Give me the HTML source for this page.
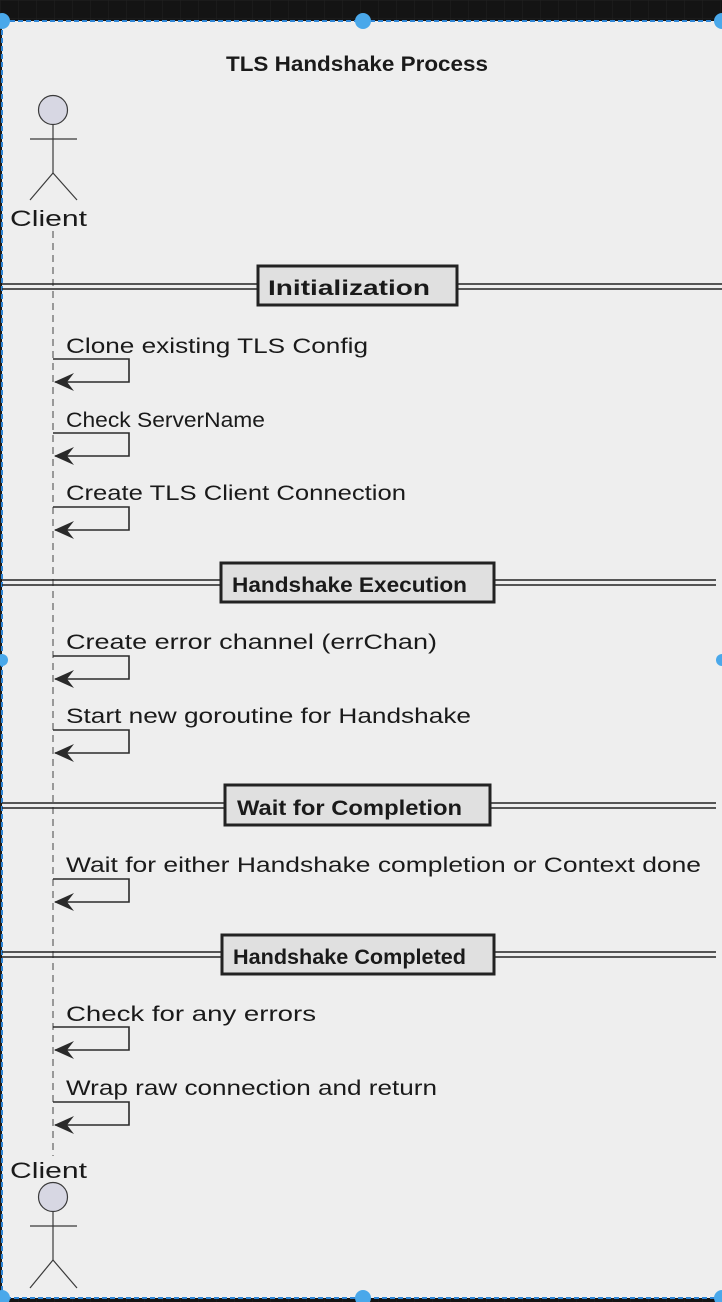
<!DOCTYPE html>
<html><head><meta charset="utf-8"><style>
html,body{margin:0;padding:0;background:#141414;}
svg{display:block;}
text{font-family:"Liberation Sans","DejaVu Sans",sans-serif;fill:#1a1a1a;}
</style></head><body>
<svg width="722" height="1302" viewBox="0 0 722 1302" xmlns="http://www.w3.org/2000/svg">
<defs>
<pattern id="g" width="18" height="18" patternUnits="userSpaceOnUse"><rect width="18" height="18" fill="#141414"/><path d="M0 0V18M0 0H18" stroke="#222" stroke-width="1"/></pattern>
</defs>
<rect x="0" y="0" width="722" height="1302" fill="url(#g)"/>
<rect x="2" y="21" width="722" height="1277" fill="#eeeeee"/>
<rect x="2" y="21" width="722" height="1277" fill="none" stroke="#2f86d6" stroke-width="2" stroke-dasharray="5,3"/>

<text x="357" y="71" font-size="21" font-weight="bold" text-anchor="middle" textLength="262" lengthAdjust="spacingAndGlyphs">TLS Handshake Process</text>

<!-- top actor -->
<g stroke="#3a3a3a" stroke-width="1.2" fill="none">
<circle cx="53" cy="110" r="14.5" fill="#d7d7e3"/>
<line x1="53" y1="125" x2="53" y2="173"/>
<line x1="30" y1="139" x2="77" y2="139"/>
<line x1="53" y1="173" x2="30" y2="200"/>
<line x1="53" y1="173" x2="77" y2="200"/>
</g>
<text x="10" y="226" font-size="22" textLength="77" lengthAdjust="spacingAndGlyphs">Client</text>

<!-- lifeline -->
<line x1="53" y1="231" x2="53" y2="1156" stroke="#444" stroke-width="1" stroke-dasharray="7,5"/>

<!-- dividers -->
<g stroke="#222" stroke-width="1.5">
<line x1="2" y1="284" x2="722" y2="284"/><line x1="2" y1="289" x2="722" y2="289"/>
<line x1="2" y1="580" x2="716" y2="580"/><line x1="2" y1="585" x2="716" y2="585"/>
<line x1="2" y1="803" x2="716" y2="803"/><line x1="2" y1="808" x2="716" y2="808"/>
<line x1="2" y1="952" x2="716" y2="952"/><line x1="2" y1="957" x2="716" y2="957"/>
</g>
<g fill="#e0e0e0" stroke="#222" stroke-width="3">
<rect x="258" y="266" width="199" height="39"/>
<rect x="221" y="563" width="273" height="39"/>
<rect x="225" y="785" width="265" height="40"/>
<rect x="222" y="935" width="272" height="39"/>
</g>
<g font-weight="bold" font-size="21">
<text x="268" y="295" textLength="162" lengthAdjust="spacingAndGlyphs">Initialization</text>
<text x="232" y="592" textLength="235" lengthAdjust="spacingAndGlyphs">Handshake Execution</text>
<text x="237" y="815" textLength="225" lengthAdjust="spacingAndGlyphs">Wait for Completion</text>
<text x="233" y="964" textLength="233" lengthAdjust="spacingAndGlyphs">Handshake Completed</text>
</g>

<!-- messages -->
<g font-size="21">
<text x="66" y="353" textLength="302" lengthAdjust="spacingAndGlyphs">Clone existing TLS Config</text>
<text x="66" y="427" textLength="199" lengthAdjust="spacingAndGlyphs">Check ServerName</text>
<text x="66" y="500" textLength="340" lengthAdjust="spacingAndGlyphs">Create TLS Client Connection</text>
<text x="66" y="649" textLength="371" lengthAdjust="spacingAndGlyphs">Create error channel (errChan)</text>
<text x="66" y="723" textLength="405" lengthAdjust="spacingAndGlyphs">Start new goroutine for Handshake</text>
<text x="66" y="872" textLength="635" lengthAdjust="spacingAndGlyphs">Wait for either Handshake completion or Context done</text>
<text x="66" y="1021" textLength="250" lengthAdjust="spacingAndGlyphs">Check for any errors</text>
<text x="66" y="1095" textLength="371" lengthAdjust="spacingAndGlyphs">Wrap raw connection and return</text>
</g>
<g stroke="#2a2a2a" stroke-width="1.6" fill="none">
<path d="M53 359H129V382H55"/>
<path d="M53 433H129V456H55"/>
<path d="M53 507H129V530H55"/>
<path d="M53 656H129V679H55"/>
<path d="M53 730H129V753H55"/>
<path d="M53 879H129V902H55"/>
<path d="M53 1027H129V1050H55"/>
<path d="M53 1102H129V1125H55"/>
</g>
<g fill="#2a2a2a">
<path d="M54 382L74 373L67 382L74 391Z"/>
<path d="M54 456L74 447L67 456L74 465Z"/>
<path d="M54 530L74 521L67 530L74 539Z"/>
<path d="M54 679L74 670L67 679L74 688Z"/>
<path d="M54 753L74 744L67 753L74 762Z"/>
<path d="M54 902L74 893L67 902L74 911Z"/>
<path d="M54 1050L74 1041L67 1050L74 1059Z"/>
<path d="M54 1125L74 1116L67 1125L74 1134Z"/>
</g>

<!-- bottom actor -->
<text x="10" y="1178" font-size="22" textLength="77" lengthAdjust="spacingAndGlyphs">Client</text>
<g stroke="#3a3a3a" stroke-width="1.2" fill="none">
<circle cx="53" cy="1197" r="14.5" fill="#d7d7e3"/>
<line x1="53" y1="1212" x2="53" y2="1260"/>
<line x1="30" y1="1226" x2="77" y2="1226"/>
<line x1="53" y1="1260" x2="30" y2="1288"/>
<line x1="53" y1="1260" x2="77" y2="1288"/>
</g>

<!-- handles -->
<g fill="#4aa8ea">
<circle cx="2" cy="21" r="8"/><circle cx="363" cy="21" r="8"/><circle cx="722" cy="21" r="8"/>
<circle cx="2" cy="660" r="6"/><circle cx="722" cy="660" r="6"/>
<circle cx="2" cy="1298" r="8"/><circle cx="363" cy="1298" r="8"/><circle cx="722" cy="1298" r="8"/>
</g>
</svg>
</body></html>
